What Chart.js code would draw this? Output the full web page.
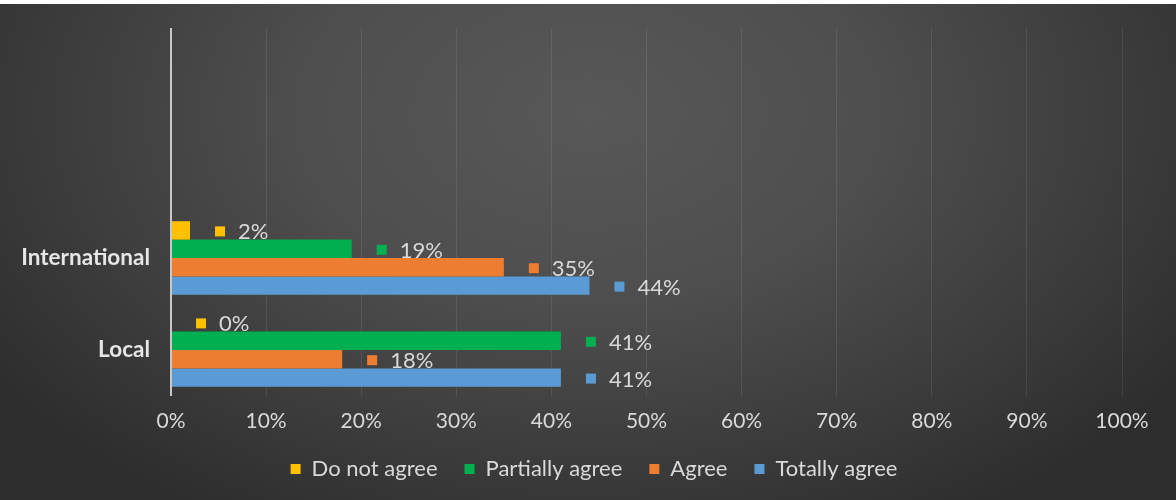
<!DOCTYPE html>
<html>
<head>
<meta charset="utf-8">
<script src="https://cdn.jsdelivr.net/npm/chart.js@4.4.0/dist/chart.umd.min.js"></script>
<style>
  html, body { margin: 0; padding: 0; background: #ffffff; }
  #wrap {
    position: absolute; left: 0; top: 4px; width: 1176px; height: 496px;
    background: radial-gradient(ellipse 62% 95% at 50% 22%, #585858 0%, #4e4e4e 40%, #3b3b3b 75%, #2d2d2d 100%);
  }
  canvas { display: block; }
</style>
</head>
<body>
<div id="wrap"><canvas id="c" width="1176" height="496"></canvas></div>
<script>
const categories = ['International', 'Local'];
const seriesNames = ['Do not agree', 'Partially agree', 'Agree', 'Totally agree'];
const doNotAgree = [2, 0];
const partiallyAgree = [19, 41];
const agree = [35, 18];
const totallyAgree = [44, 41];
const xTickLabels = ['0%', '10%', '20%', '30%', '40%', '50%', '60%', '70%', '80%', '90%', '100%'];
const colors = ['#FFC000', '#00B050', '#ED7D31', '#5B9BD5'];

// two empty category slots above, as in the original layout
const labels = ['', ''].concat(categories);
const pad = arr => [null, null].concat(arr);
const seriesValues = [doNotAgree, partiallyAgree, agree, totallyAgree];

const FONT = 'Lato, "Open Sans", sans-serif';
const TEXT = '#d9d9d9';

const valueLabels = {
  id: 'valueLabels',
  afterDatasetsDraw(chart) {
    const ctx = chart.ctx;
    ctx.save();
    chart.data.datasets.forEach((ds, di) => {
      const meta = chart.getDatasetMeta(di);
      meta.data.forEach((bar, i) => {
        const v = ds.data[i];
        if (v === null || v === undefined) return;
        const sx = bar.x + 25;
        const cy = bar.y + 1;
        ctx.fillStyle = ds.backgroundColor;
        ctx.fillRect(sx, cy - 5, 10, 10);
        ctx.fillStyle = TEXT;
        ctx.font = '22px ' + FONT;
        ctx.textAlign = 'left';
        ctx.textBaseline = 'middle';
        ctx.fillText(v + '%', sx + 23, cy + 1);
      });
    });
    ctx.restore();
  }
};

// shift the legend a little to the right, as in the original
const legendShift = {
  id: 'legendShift',
  afterLayout(chart) {
    if (chart.legend) { chart.legend.left = 66; }
  }
};

new Chart(document.getElementById('c'), {
  type: 'bar',
  data: {
    labels: labels,
    datasets: seriesNames.map((name, k) => ({
      label: name,
      data: pad(seriesValues[k]),
      backgroundColor: colors[k],
      borderWidth: 0,
      categoryPercentage: 0.8,
      barPercentage: 1.0
    }))
  },
  options: {
    indexAxis: 'y',
    responsive: false,
    animation: false,
    layout: { padding: { left: 0, right: 54, top: 24, bottom: 10 } },
    scales: {
      x: {
        min: 0, max: 100,
        afterFit: s => { s.height = 35; },
        ticks: {
          stepSize: 10,
          padding: 13,
          color: TEXT,
          font: { family: FONT, size: 21 },
          callback: (v, i) => xTickLabels[i]
        },
        grid: {
          drawTicks: false,
          color: c => (c.tick && c.tick.value === 0) ? '#c8c8c8' : 'rgba(255,255,255,0.09)',
          lineWidth: c => (c.tick && c.tick.value === 0) ? 2 : 1
        },
        border: { display: false }
      },
      y: {
        afterFit: s => { s.width = 171; s.paddingTop = 0; s.paddingBottom = 0; },
        ticks: {
          padding: 21,
          color: '#e6e6e6',
          font: { family: FONT, size: 22.5, weight: 'bold' }
        },
        grid: { display: false, drawTicks: false },
        border: { display: false }
      }
    },
    plugins: {
      legend: {
        position: 'bottom',
        labels: {
          color: TEXT,
          font: { family: FONT, size: 22 },
          boxWidth: 10,
          boxHeight: 10,
          padding: 27
        }
      },
      tooltip: { enabled: false }
    }
  },
  plugins: [valueLabels, legendShift]
});
</script>
</body>
</html>
